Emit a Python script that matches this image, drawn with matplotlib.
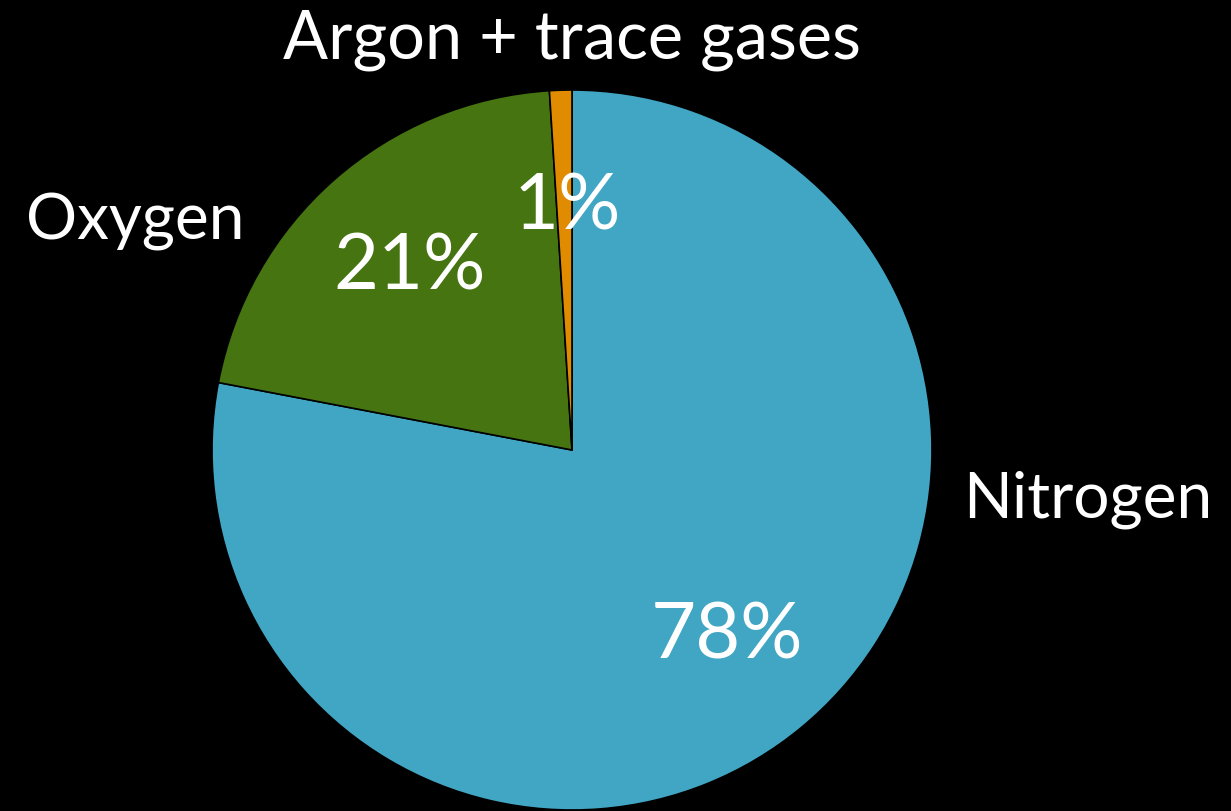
import matplotlib
matplotlib.use("Agg")
import matplotlib.pyplot as plt

labels = ["Nitrogen", "Oxygen", "Argon + trace gases"]
values = [78, 21, 1]
colors = ["#41A5C4", "#467410", "#E08B00"]

W, H = 1231, 811
fig = plt.figure(figsize=(W / 100, H / 100), dpi=100, facecolor="black")
cx, cy, r = 572, 450, 360
ax = fig.add_axes([(cx - r) / W, (H - cy - r) / H, 2 * r / W, 2 * r / H])
ax.set_facecolor("black")

wedges, texts, autotexts = ax.pie(
    values, labels=labels, colors=colors, startangle=90, counterclock=False,
    autopct="%d%%", wedgeprops=dict(edgecolor="black", linewidth=1.2),
    textprops=dict(color="white", family=["Lato", "DejaVu Sans"]))

def d(px, py):
    return ((px - cx) / r, (cy - py) / r)

label_pos = [d(1088, 500), d(135, 222), d(572, 40)]
label_sizes = [46, 46, 48]
pct_pos = [d(727, 637), d(410, 268), d(567, 208)]
for t, p, s in zip(texts, label_pos, label_sizes):
    t.set_position(p)
    t.set_ha("center"); t.set_va("center")
    t.set_fontsize(s)
    t.set_fontweight("normal")
    t.set_clip_on(False)
for t, p in zip(autotexts, pct_pos):
    t.set_position(p)
    t.set_ha("center"); t.set_va("center")
    t.set_fontsize(56)
    t.set_fontweight("normal")
    t.set_clip_on(False)

ax.set_xlim(-1, 1)
ax.set_ylim(-1, 1)
ax.set_aspect("equal")
ax.axis("off")
fig.savefig("out.png", dpi=100, facecolor="black")
